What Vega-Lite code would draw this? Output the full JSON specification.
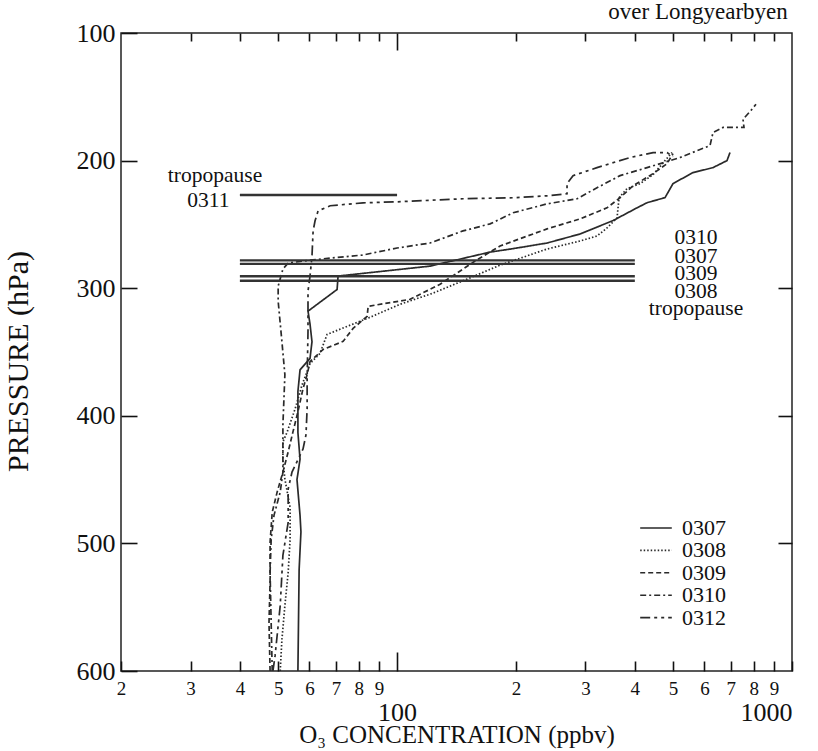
{
  "$schema": "https://vega.github.io/schema/vega-lite/v6.json",
  "width": 671,
  "height": 638,
  "autosize": "none",
  "padding": {"left": 121, "top": 33, "right": 26, "bottom": 80},
  "background": "white",
  "config": {
    "font": "Liberation Serif",
    "view": {"stroke": "#222", "strokeWidth": 1.5},
    "axis": {"domain": false, "grid": false, "labelColor": "#111", "titleColor": "#111", "tickColor": "#111", "tickWidth": 1.6, "titleFontWeight": "normal", "labelFont": "Liberation Serif", "titleFont": "Liberation Serif"}
  },
  "title": {"text": "over Longyearbyen", "anchor": "end", "fontSize": 23, "fontWeight": "normal", "font": "Liberation Serif", "color": "#111", "offset": 3, "dx": -5, "dy": 25, "baseline": "alphabetic"},
  "datasets": {
    "profiles": [
      {"id":"0307","o3":56.1,"p":600},{"id":"0307","o3":56.5,"p":520.5},{"id":"0307","o3":57.1,"p":491},{"id":"0307","o3":56.8,"p":478},{"id":"0307","o3":55.8,"p":450},{"id":"0307","o3":56.8,"p":434},{"id":"0307","o3":56.1,"p":413},{"id":"0307","o3":56.1,"p":381},{"id":"0307","o3":56.8,"p":364},{"id":"0307","o3":60.2,"p":355},{"id":"0307","o3":60.9,"p":342},{"id":"0307","o3":60.2,"p":328},{"id":"0307","o3":59.5,"p":318},{"id":"0307","o3":70.5,"p":301},{"id":"0307","o3":70.9,"p":290.5},{"id":"0307","o3":121.2,"p":282.7},{"id":"0307","o3":172,"p":271.7},{"id":"0307","o3":196.7,"p":269},{"id":"0307","o3":239.8,"p":264.6},{"id":"0307","o3":290.7,"p":257.5},{"id":"0307","o3":352.3,"p":247},{"id":"0307","o3":405.2,"p":237},{"id":"0307","o3":429.6,"p":233},{"id":"0307","o3":477,"p":229},{"id":"0307","o3":499.8,"p":218},{"id":"0307","o3":561.5,"p":209.4},{"id":"0307","o3":631,"p":205.5},{"id":"0307","o3":684.6,"p":200},{"id":"0307","o3":696.6,"p":193.7},
      {"id":"0308","o3":50.6,"p":600},{"id":"0308","o3":51.1,"p":575.6},{"id":"0308","o3":52.0,"p":548.8},{"id":"0308","o3":53.0,"p":522.8},{"id":"0308","o3":53.6,"p":496.9},{"id":"0308","o3":53.6,"p":471.7},{"id":"0308","o3":52.0,"p":449.6},{"id":"0308","o3":51.4,"p":433.9},{"id":"0308","o3":51.4,"p":420.5},{"id":"0308","o3":52.7,"p":412.6},{"id":"0308","o3":55.2,"p":394.5},{"id":"0308","o3":57.5,"p":375.6},{"id":"0308","o3":60.2,"p":359.1},{"id":"0308","o3":63.8,"p":351.2},{"id":"0308","o3":66.5,"p":336.2},{"id":"0308","o3":85.4,"p":322.8},{"id":"0308","o3":101.8,"p":312.6},{"id":"0308","o3":123.3,"p":303.9},{"id":"0308","o3":150.4,"p":292.9},{"id":"0308","o3":182.3,"p":281.9},{"id":"0308","o3":239.8,"p":269.3},{"id":"0308","o3":290.7,"p":263},{"id":"0308","o3":320.8,"p":259.1},{"id":"0308","o3":340.1,"p":252.8},{"id":"0308","o3":360.6,"p":244.9},{"id":"0308","o3":364.8,"p":229.1},{"id":"0308","o3":382.2,"p":222},{"id":"0308","o3":412.4,"p":218.1},{"id":"0308","o3":444.9,"p":211},{"id":"0308","o3":477,"p":200},{"id":"0308","o3":496.8,"p":193.7},
      {"id":"0309","o3":47.7,"p":600},{"id":"0309","o3":47.4,"p":562.2},{"id":"0309","o3":47.7,"p":530.7},{"id":"0309","o3":47.7,"p":499.2},{"id":"0309","o3":48.3,"p":475.6},{"id":"0309","o3":49.7,"p":459.8},{"id":"0309","o3":51.4,"p":444.1},{"id":"0309","o3":53.0,"p":428.3},{"id":"0309","o3":54.5,"p":412.6},{"id":"0309","o3":56.1,"p":396.9},{"id":"0309","o3":57.8,"p":378.7},{"id":"0309","o3":59.2,"p":367.7},{"id":"0309","o3":60.2,"p":357.5},{"id":"0309","o3":65.0,"p":348},{"id":"0309","o3":73.0,"p":341.7},{"id":"0309","o3":77.4,"p":331.5},{"id":"0309","o3":84.0,"p":322},{"id":"0309","o3":84.5,"p":314.2},{"id":"0309","o3":107.9,"p":308.7},{"id":"0309","o3":128.5,"p":296.9},{"id":"0309","o3":157.6,"p":278.7},{"id":"0309","o3":182.3,"p":266.9},{"id":"0309","o3":239.8,"p":253.5},{"id":"0309","o3":290.7,"p":245.7},{"id":"0309","o3":340.1,"p":237},{"id":"0309","o3":366.9,"p":229.1},{"id":"0309","o3":395.9,"p":219.7},{"id":"0309","o3":444.9,"p":210.2},{"id":"0309","o3":482.6,"p":202.4},{"id":"0309","o3":499.8,"p":194.5},
      {"id":"0310","o3":48.3,"p":600},{"id":"0310","o3":48.0,"p":562.2},{"id":"0310","o3":47.7,"p":522.8},{"id":"0310","o3":48.0,"p":496.9},{"id":"0310","o3":48.8,"p":478},{"id":"0310","o3":50.6,"p":459.8},{"id":"0310","o3":51.4,"p":444.1},{"id":"0310","o3":51.4,"p":407.1},{"id":"0310","o3":52.0,"p":367.7},{"id":"0310","o3":51.1,"p":341.7},{"id":"0310","o3":50.0,"p":310.2},{"id":"0310","o3":50.0,"p":298.4},{"id":"0310","o3":51.4,"p":285},{"id":"0310","o3":53.0,"p":280.3},{"id":"0310","o3":60.2,"p":278},{"id":"0310","o3":67.7,"p":276.4},{"id":"0310","o3":82.0,"p":274},{"id":"0310","o3":100,"p":268.5},{"id":"0310","o3":121.2,"p":264.6},{"id":"0310","o3":146.9,"p":255.1},{"id":"0310","o3":172,"p":249.6},{"id":"0310","o3":196.7,"p":240.9},{"id":"0310","o3":239.8,"p":233.9},{"id":"0310","o3":285.6,"p":229.9},{"id":"0310","o3":320.8,"p":221.3},{"id":"0310","o3":366.9,"p":211.8},{"id":"0310","o3":429.6,"p":205.5},{"id":"0310","o3":520.6,"p":197.6},{"id":"0310","o3":620,"p":188.2},{"id":"0310","o3":631,"p":178},{"id":"0310","o3":668.8,"p":174},{"id":"0310","o3":755.9,"p":174},{"id":"0310","o3":751.5,"p":167.7},{"id":"0310","o3":787.5,"p":160.6},{"id":"0310","o3":810.6,"p":155.9},
      {"id":"0312","o3":48.5,"p":600},{"id":"0312","o3":49.1,"p":588.2},{"id":"0312","o3":50.6,"p":548.8},{"id":"0312","o3":51.4,"p":509.4},{"id":"0312","o3":53.0,"p":483.5},{"id":"0312","o3":53.0,"p":457.5},{"id":"0312","o3":54.2,"p":444.1},{"id":"0312","o3":57.8,"p":426},{"id":"0312","o3":58.8,"p":415},{"id":"0312","o3":59.2,"p":394.5},{"id":"0312","o3":59.2,"p":370.9},{"id":"0312","o3":59.5,"p":333.9},{"id":"0312","o3":59.5,"p":315.7},{"id":"0312","o3":59.5,"p":302.4},{"id":"0312","o3":60.2,"p":290.6},{"id":"0312","o3":60.9,"p":274.8},{"id":"0312","o3":61.3,"p":255.1},{"id":"0312","o3":62.0,"p":247.2},{"id":"0312","o3":63.1,"p":239.4},{"id":"0312","o3":67.7,"p":235.4},{"id":"0312","o3":82.0,"p":233.1},{"id":"0312","o3":100,"p":232.3},{"id":"0312","o3":146.9,"p":229.9},{"id":"0312","o3":196.7,"p":229.1},{"id":"0312","o3":239.8,"p":227.6},{"id":"0312","o3":269.4,"p":226},{"id":"0312","o3":269.4,"p":218.1},{"id":"0312","o3":279,"p":211.8},{"id":"0312","o3":320.8,"p":205.5},{"id":"0312","o3":389,"p":197.6},{"id":"0312","o3":444.9,"p":193.7},{"id":"0312","o3":482.6,"p":193.7},{"id":"0312","o3":499.8,"p":196.9}
    ],
    "tropopause": [
      {"id":"0310","from":40,"to":400,"p":278.2},
      {"id":"0307","from":40,"to":400,"p":280.9},
      {"id":"0309","from":40,"to":400,"p":290.6},
      {"id":"0308","from":40,"to":400,"p":294.2},
      {"id":"0311","from":40,"to":100,"p":227}
    ],
    "notes": [
      {"t":"tropopause","o3":34.6,"p":211.8},
      {"t":"0311","o3":33.3,"p":231.9},
      {"t":"0310","o3":571.5,"p":261},
      {"t":"0307","o3":571.5,"p":275.5},
      {"t":"0309","o3":571.5,"p":288.5},
      {"t":"0308","o3":571.5,"p":303},
      {"t":"tropopause","o3":571.5,"p":316}
    ]
  },
  "layer": [
    {
      "data": {"name": "profiles"},
      "mark": {"type": "line", "stroke": "#2a2a2a", "strokeWidth": 1.7},
      "encoding": {
        "x": {
          "field": "o3", "type": "quantitative",
          "scale": {"type": "log", "domain": [20, 1000], "nice": false},
          "axis": {
            "orient": "bottom",
            "values": [20,30,40,50,60,70,80,90,100,200,300,400,500,600,700,800,900,1000],
            "labelExpr": "datum.value == 100 ? '100' : datum.value == 1000 ? '1000' : '' + (datum.value < 100 ? round(datum.value / 10) : round(datum.value / 100))",
            "labelFontSize": {"condition": {"test": "datum.value == 100 || datum.value == 1000", "value": 26}, "value": 19},
            "labelPadding": {"condition": [{"test": "datum.value == 100", "value": 28}, {"test": "datum.value == 1000", "value": 28}], "value": 8},
            "labelAlign": {"condition": {"test": "datum.value == 1000", "value": "right"}, "value": "center"},
            "labelFlush": false, "labelOverlap": false, "labelBound": false,
            "ticks": false,
            "grid": true, "gridColor": "#111", "gridWidth": 1.6, "gridOpacity": 1,
            "gridDash": {"condition": {"test": "datum.value == 100", "value": [19, 2000]}, "value": [10, 2000]},
            "title": "O₃ CONCENTRATION (ppbv)",
            "titleFontSize": 25, "titleY": 63, "titleBaseline": "middle"
          }
        },
        "y": {
          "field": "p", "type": "quantitative",
          "scale": {"domain": [100, 600], "reverse": true, "nice": false, "zero": false},
          "axis": {
            "orient": "left",
            "values": [100,200,300,400,500,600],
            "labelFontSize": 26, "labelPadding": 22, "labelBaseline": "middle", "labelOverlap": false, "labelBound": false, "labelFlush": false,
            "tickSize": -16,
            "title": "PRESSURE (hPa)", "titleFontSize": 30,
            "titleX": -103, "titleY": 328, "titleAlign": "center", "titleBaseline": "middle", "titleAngle": -90
          }
        },
        "strokeDash": {
          "field": "id", "type": "nominal",
          "scale": {"domain": ["0307","0308","0309","0310","0312"], "range": [[1,0],[1.5,2],[5,3],[6,3,2,3],[10,4,3,4,3,4]]},
          "legend": {
            "orient": "none", "legendX": 518, "legendY": 484, "title": null,
            "symbolType": "stroke", "symbolSize": 1000, "symbolStrokeWidth": 1.6, "symbolStrokeColor": "#2a2a2a",
            "labelFontSize": 22, "labelFont": "Liberation Serif", "labelColor": "#111", "labelOffset": 9,
            "clipHeight": 22, "rowPadding": 0.4
          }
        },
        "order": {"value": null}
      }
    },
    {
      "data": {"name": "tropopause"},
      "mark": {"type": "rule", "stroke": "#333", "strokeWidth": 2.4},
      "encoding": {
        "x": {
          "field": "from", "type": "quantitative",
          "scale": {"type": "log", "domain": [20, 1000], "nice": false},
          "axis": {
            "orient": "top",
            "values": [30,40,50,60,70,80,90,100,200,300,400,500,600,700,800,900],
            "labels": false, "title": null, "ticks": false,
            "grid": true, "gridColor": "#111", "gridWidth": 1.6, "gridOpacity": 1,
            "gridDash": {"condition": {"test": "datum.value == 100", "value": [17, 2000]}, "value": [8, 2000]}
          }
        },
        "x2": {"field": "to"},
        "y": {
          "field": "p", "type": "quantitative",
          "scale": {"domain": [100, 600], "reverse": true, "nice": false, "zero": false},
          "axis": {"orient": "right", "values": [200,300,400,500], "labels": false, "title": null, "tickSize": -14}
        }
      }
    },
    {
      "data": {"name": "notes"},
      "mark": {"type": "text", "fontSize": 21.5, "font": "Liberation Serif", "baseline": "middle", "align": "center", "color": "#111"},
      "encoding": {
        "x": {"field": "o3", "type": "quantitative", "scale": {"type": "log", "domain": [20, 1000], "nice": false}, "axis": null},
        "y": {"field": "p", "type": "quantitative", "scale": {"domain": [100, 600], "reverse": true, "nice": false, "zero": false}, "axis": null},
        "text": {"field": "t"}
      }
    }
  ],
  "resolve": {"axis": {"x": "independent", "y": "independent"}}
}
